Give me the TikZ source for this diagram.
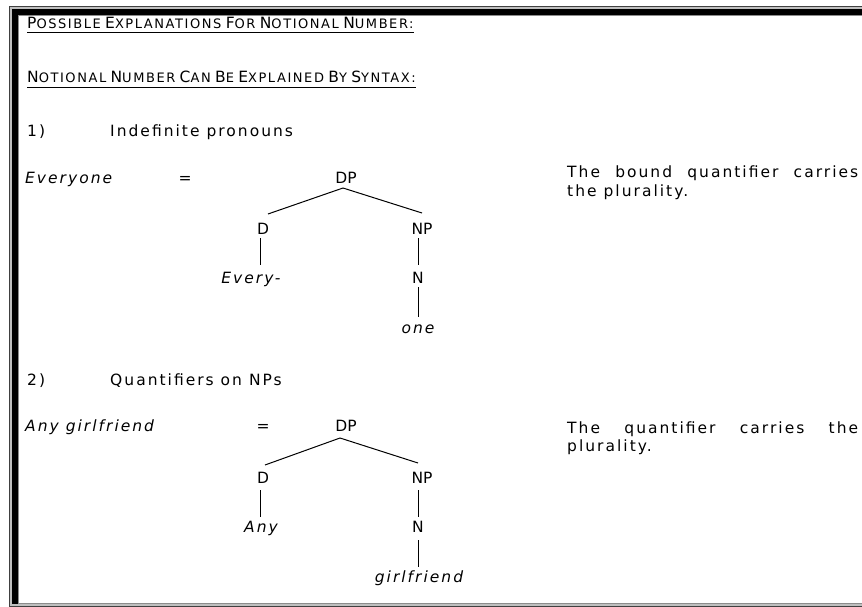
\documentclass[tikz,border=0pt]{standalone}
\usepackage{fontspec}
\setmainfont{DejaVu Sans}[LetterSpace=13]
\newfontfamily\headfont{DejaVu Sans}[LetterSpace=12]
\newfontfamily\catfont{DejaVu Sans}
\usetikzlibrary{calc}
% small caps built from two sizes of capitals
\newcommand\capsword[2]{{\fontsize{15.5}{18}\selectfont #1}{\fontsize{13}{14}\selectfont #2}}
\begin{document}
\begin{tikzpicture}[x=1pt,y=-1pt,
  txt/.style={anchor=base west, inner sep=0pt, font=\fontsize{15.5}{18}\selectfont},
  ital/.style={txt, font=\fontsize{15.5}{18}\selectfont\itshape},
  head/.style={anchor=base west, inner sep=0pt, font=\headfont},
  cat/.style={anchor=base, inner sep=0pt, font=\catfont\fontsize{15.5}{18}\selectfont},
  word/.style={anchor=base, inner sep=0pt, font=\fontsize{15.5}{18}\selectfont\itshape},
  branch/.style={line width=1pt, black},
  uline/.style={line width=1pt, black}]
\useasboundingbox (0,0) rectangle (862,607);

% window frame: thin outer line, heavy top and left band, thin inner line
\fill[black!75] (9,6) rectangle (862,607);
\fill[black!25] (10,7) rectangle (862,606);
\fill[black] (12,9) rectangle (862,604);
\fill[black!45] (18,15) rectangle (862,604);
\fill[white] (19,16) rectangle (862,603);

% headings
\node[head] (h1) at (27,29) {\capsword{P}{OSSIBLE} \capsword{E}{XPLANATIONS} \capsword{F}{OR} \capsword{N}{OTIONAL} \capsword{N}{UMBER}\capsword{}{:}};
\draw[uline] ([yshift=-4pt]h1.base west) -- ([yshift=-4pt]h1.base east);
\node[head] (h2) at (27,83) {\capsword{N}{OTIONAL} \capsword{N}{UMBER} \capsword{C}{AN} \capsword{B}{E} \capsword{E}{XPLAINED} \capsword{B}{Y} \capsword{S}{YNTAX}\capsword{}{:}};
\draw[uline] ([yshift=-5pt]h2.base west) -- ([yshift=-5pt]h2.base east);

% 1) indefinite pronouns
\node[txt] (n1) at (27,137) {1)};
\node[txt] (l1) at (110,137) {Indefinite pronouns};
\node[ital] (ex1) at (25,183) {Everyone};
\node[cat] (eq1) at (185,183) {=};
\node[cat] (dp1) at (346,183) {DP};
\node[cat] (d1) at (263,234) {D};
\node[cat] (np1) at (422,234) {NP};
\node[word] (w1) at (251,283) {Every-};
\node[cat] (nn1) at (418,283) {N};
\node[word] (o1) at (418,333) {one};
\draw[branch] ($(dp1.base)+(-3,5)$) -- ($(d1.base)+(5,-20)$);
\draw[branch] ($(dp1.base)+(-3,5)$) -- ($(np1.base)+(0,-21)$);
\draw[branch] ($(d1.base)+(-3,4)$) -- ($(w1.base)+(9,-18)$);
\draw[branch] ($(np1.base)+(-4,4)$) -- ($(nn1.base)+(0,-18)$);
\draw[branch] ($(nn1.base)+(0,4)$) -- ($(o1.base)+(0,-16)$);
\node[txt] (c1a) at (567,178) {\makebox[291pt][s]{The bound quantifier carries}};
\node[txt] (c1b) at (567,196) {the plurality.};

% 2) quantifiers on NPs
\node[txt] (n2) at (27,385) {2)};
\node[txt] (l2) at (110,385) {Quantifiers on NPs};
\node[ital] (ex2) at (25,431) {Any girlfriend};
\node[cat] (eq2) at (263,431) {=};
\node[cat] (dp2) at (346,431) {DP};
\node[cat] (d2) at (263,483) {D};
\node[cat] (np2) at (422,483) {NP};
\node[word] (w2) at (261,532) {Any};
\node[cat] (nn2) at (418,532) {N};
\node[word] (o2) at (419,582) {girlfriend};
\draw[branch] ($(dp2.base)+(-6,7)$) -- ($(d2.base)+(2,-18)$);
\draw[branch] ($(dp2.base)+(-6,7)$) -- ($(np2.base)+(-4,-20)$);
\draw[branch] ($(d2.base)+(-3,7)$) -- ($(w2.base)+(-1,-15)$);
\draw[branch] ($(np2.base)+(-4,7)$) -- ($(nn2.base)+(0,-15)$);
\draw[branch] ($(nn2.base)+(0,8)$) -- ($(o2.base)+(-1,-15)$);
\node[txt] (c2a) at (567,433) {\makebox[291pt][s]{The quantifier carries the}};
\node[txt] (c2b) at (567,451) {plurality.};
\end{tikzpicture}
\end{document}
